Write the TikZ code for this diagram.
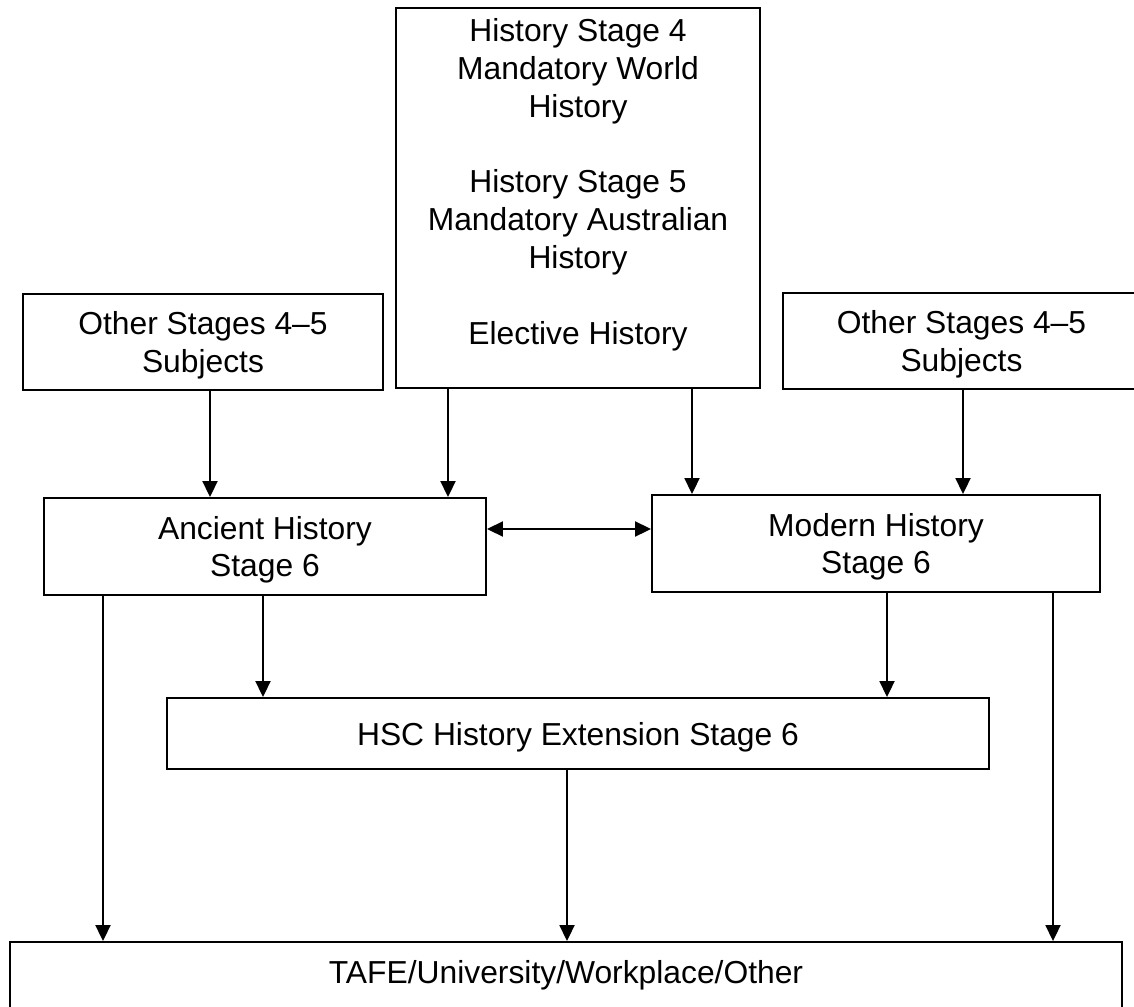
\documentclass[tikz,border=0pt]{standalone}
\usepackage{fontspec}
\setmainfont{Liberation Sans}
\usetikzlibrary{arrows.meta}
\tikzset{
  box/.style={draw=black, line width=1.9pt, inner sep=0pt, align=center, fill=white, text depth=0pt},
  txt/.style={inner sep=0pt, align=center},
  arr/.style={line width=1.9pt, -{Triangle[length=16pt,width=15pt]}},
  darr/.style={line width=1.9pt, {Triangle[length=16pt,width=15pt]}-{Triangle[length=16pt,width=15pt]}}
}
\begin{document}
\begin{tikzpicture}[x=1pt, y=-1pt, font=\fontsize{31.8}{37.9}\selectfont]
\useasboundingbox (0,0) rectangle (1134,1006);
\clip (0,0) rectangle (1134,1006);
\fill[white] (0,0) rectangle (1134,1006);
% boxes
\node[box, minimum width=360pt, minimum height=96pt] (oL) at (203,342) {Other Stages 4--5\\Subjects};
\node[box, minimum width=364pt, minimum height=380pt] (hist) at (578,198) {};
\node[txt, anchor=north] (histtxt) at (578,18) {History Stage 4\\Mandatory World\\History\\[37.9pt]History Stage 5\\Mandatory Australian\\History\\[37.9pt]Elective History};
\node[box, minimum width=357pt, minimum height=96pt] (oR) at (961.5,341) {Other Stages 4--5\\Subjects};
\node[box, minimum width=442pt, minimum height=97pt] (anc) at (265,546.5) {Ancient History\\Stage 6};
\node[box, minimum width=448pt, minimum height=97pt] (mod) at (876,543.5) {Modern History\\Stage 6};
\node[box, minimum width=822pt, minimum height=71pt] (hsc) at (578,733.5) {HSC History Extension Stage 6};
\node[box, minimum width=1112pt, minimum height=100pt] (tafe) at (566,992) {};
\node[txt, text depth=0pt] (tafetxt) at (566,972) {TAFE/University/Workplace/Other};
% connectors
\draw[arr] (210,0 |- oL.south) -- (210,0 |- anc.north);
\draw[arr] (448,0 |- hist.south) -- (448,0 |- anc.north);
\draw[arr] (692,0 |- hist.south) -- (692,0 |- mod.north);
\draw[arr] (963,0 |- oR.south) -- (963,0 |- mod.north);
\draw[darr] (anc.east |- 0,529) -- (mod.west |- 0,529);
\draw[arr] (103,0 |- anc.south) -- (103,0 |- tafe.north);
\draw[arr] (263,0 |- anc.south) -- (263,0 |- hsc.north);
\draw[arr] (887,0 |- mod.south) -- (887,0 |- hsc.north);
\draw[arr] (1053,0 |- mod.south) -- (1053,0 |- tafe.north);
\draw[arr] (567,0 |- hsc.south) -- (567,0 |- tafe.north);
\end{tikzpicture}
\end{document}
